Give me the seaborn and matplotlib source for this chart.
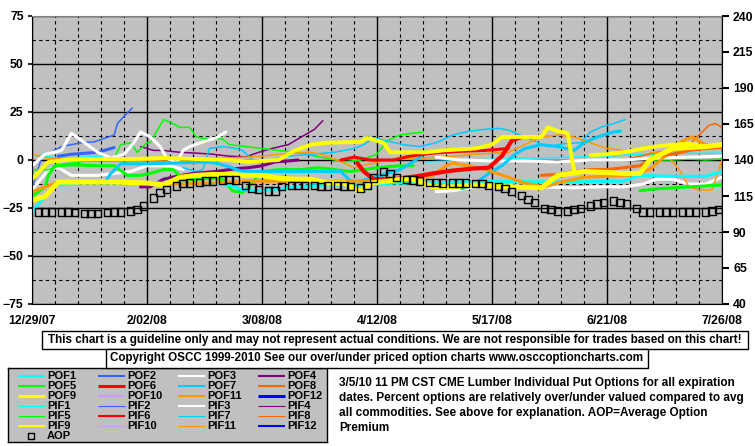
import numpy as np
import pandas as pd
import seaborn as sns
import matplotlib.pyplot as plt
from matplotlib.patches import Rectangle
from matplotlib.ticker import MultipleLocator

sns.set_style("white")
plt.rcParams['font.family'] = ['Liberation Sans', 'DejaVu Sans']
plt.rcParams['font.weight'] = 'bold'
plt.rcParams['text.color'] = 'black'
plt.rcParams['xtick.color'] = 'black'
plt.rcParams['ytick.color'] = 'black'

# x = days after 12/29/07, y = percent over/under valued (left axis)
date_labels = ["12/29/07", "2/02/08", "3/08/08", "4/12/08", "5/17/08", "6/21/08", "7/26/08"]

pof1_day = [0, 3, 7, 15, 30, 45, 60, 64, 70, 80, 90, 100, 110, 120, 140, 160, 180, 185, 195, 205, 210]
pof1_val = [-27, -21, -13, -12, -12, -12, -13, -15.5, -16, -14, -13, -13, -12, -12, -11, -11.5, -11, -8, -8.5, -8.5, -6]
pif1_day = [0, 6, 12, 20, 26]
pif1_val = [2.5, 1.5, 1, 2, 1]
pif1b_day = [120, 135, 150, 165, 175, 185, 195, 210]
pif1b_val = [-1, 0, 1, 1.5, 2, 3, 3.5, 3.5]

pof2_day = [8, 12, 16, 20, 25]
pof2_val = [2, 3, 3.5, 4, 6.5]
pif2_day = [0, 3, 9, 15, 19, 25, 26, 29, 30.5]
pif2_val = [-14.6, 1.6, 7, 9, 9.5, 13, 19, 24.5, 27]

pof3_day = [0, 4, 9, 12, 16, 20, 24, 28, 31, 33, 36, 39, 41, 44, 46, 48, 53, 56, 59]
pof3_val = [-3, 3, 5, 14, 9, 4, 1, 3, 9, 14.6, 12, 7, 1, -1.5, 5, 7, 10, 11.5, 14.6]
pof3b_day = [123, 130, 140, 150, 160, 170, 180, 190, 200, 210]
pof3b_val = [1.5, 0, -0.5, -0.5, -1, 0, 0, 1, 1.5, 2]
pif3_day = [0, 5, 8, 12, 20, 25, 30, 35, 42, 46]
pif3_val = [-15.6, -5, -4, -8, -8, -7, -6, -3, -3, -5]
pif3b_day = [123, 128, 135, 145, 155, 165, 172, 180, 186, 190, 195, 200, 205, 210]
pif3b_val = [-16.5, -16, -14, -13.5, -14, -14.5, -14, -14, -12.5, -10, -10, -12.5, -12.5, -9]

pof4_day = [33, 36, 40, 44, 49, 56, 62, 66, 70, 74, 78, 81]
pof4_val = [-14, -14, -10, -8.5, -7, -6, -4.5, -4, -3, -1, -0.5, 0]
pif4_day = [33, 37, 40, 45, 50, 55, 60, 65, 69, 73, 78, 82, 86, 88.5]
pif4_val = [7, 5, 5, 4, 3.6, 3, 2, 1.6, 4, 6, 8, 12, 16, 20.5]

pof5_day = [0, 4, 5, 7, 12, 20, 25, 29, 33, 36, 40, 43, 46, 49, 55, 58, 61, 64, 66, 70, 75, 82, 87, 92, 97, 105, 112, 116]
pof5_val = [-19, -14, -8, -3, -2.5, -3, -3, -8, -8, -7, -5, -5, -10, -10, -9.5, -10, -16, -17, -14, -6, -5, -5, -4, -5, -6, -4, -3, -3]
pof5b_day = [185, 190, 195, 200, 205, 210]
pof5b_val = [-16, -15, -14.5, -14, -13.5, -13]
pif5_day = [0, 5, 10, 15, 20, 25, 27, 30, 32, 35, 36, 40, 43, 45, 48, 50, 53, 58, 60, 65, 70, 75, 80, 85, 95, 100, 105, 108, 112, 116, 119]
pif5_val = [-5, -5, -2, -1, 0, 1, 8, 9, 4, 9, 9, 21, 19, 17, 17, 12, 11, 11, 8, 7, 6, 5, 4, 2.5, -1, 0, 3, 10, 13, 14, 14.5]
pif5b_day = [188, 195, 200, 205, 210]
pif5b_val = [0, 0, 0.5, 0, 0.5]

pof6_day = [99, 101, 104, 110, 117, 122, 128, 134, 139, 143, 146, 149]
pof6_val = [-1.6, -6, -10, -10, -8.5, -7, -5.5, -4.5, -4, 2, 10, 12]
pif6_day = [94, 98, 103, 110, 115, 122, 130, 138, 145]
pif6_val = [0, 1.5, 0, 0, 2, 3.6, 4.5, 5, 6]

pof7_day = [22, 24, 27, 35, 45, 53, 56, 60, 64, 70, 80, 90, 94, 97, 100, 106, 112, 116, 120, 124]
pof7_val = [-12, -7, -2, -2, -1.5, -1, -1.6, -3.5, -6, -6, -6, -6, -6, -11, -11, -8, -5, -1, 4, 5]
pof7b_day = [128, 131, 135, 139, 143, 147, 150, 155, 160, 165, 168, 172, 177, 179]
pof7b_val = [-12, -15, -12, -7, -3, 3, 6, 8, 7, 5, 9, 12, 14.6, 15]
pif7_day = [46, 50, 52, 54, 58, 62, 64, 66, 68, 72, 78, 85, 92, 98, 101, 104, 108, 113, 118, 123, 128, 133, 138, 142, 145, 150, 154, 157, 162, 167, 170, 173, 177, 180.5]
pif7_val = [-4, -6, -5, 6, 7, 6, 5, 2, -1, 0, 2, 3, 4, 6, 8, 11.5, 10, 8, 7, 9, 13, 15, 16, 16.5, 15.6, 12, 9, 7, 8.5, 9, 14.6, 17, 19, 21]

pof8_day = [155, 160, 165, 170, 175, 180, 185, 190, 195, 200, 205, 210]
pof8_val = [-8, -7.5, -6, -5, -5, -4, -3, 2, 3, 5, 6, 6.5]
pif8_day = [180, 185, 190, 195, 200, 203, 206, 208, 210]
pif8_val = [0, 2, 4, 5, 8, 13, 18, 19, 17]

pof9_day = [0, 4, 8, 15, 25, 35, 40, 45, 50, 55, 60, 65, 70, 75, 80, 85, 90, 95, 100, 103, 108, 115, 122, 128, 135, 145, 155, 160, 164, 168, 175, 180, 185, 188, 195, 205, 210]
pof9_val = [-21, -19, -11.5, -11.5, -11.5, -12, -13, -9, -8, -7.5, -7.5, -8, -8, -9.5, -10, -10, -12, -12, -16.5, -12, -11, -9.5, -14, -14, -13, -14, -14.5, -8, -7, -6, -6.5, -7, -7, 0, 6, 7, 8]
pif9_day = [0, 5, 10, 20, 30, 40, 50, 60, 66, 70, 75, 80, 85, 90, 100, 102, 105, 107, 109, 120, 125, 135, 140, 143, 150, 155, 157, 160, 163, 165]
pif9_val = [-10, -1, 0, 0.5, 0.5, 1, 0.5, 0, -1, -0.5, 0, 5, 8, 9, 9.4, 11.5, 10, 9, 4, 4, 5, 6, 8, 12, 12, 12, 17, 15, 14, -6]
pif9b_day = [170, 175, 180, 186, 190, 195, 200, 205, 210]
pif9b_val = [2.5, 3, 4, 6, 7, 8, 8.5, 7, 8]

pof11_day = [0, 4, 8, 20, 35, 45, 55, 65, 75, 85, 95, 105, 115, 122, 126, 128, 133, 138, 145, 150, 156, 161, 168, 175, 182, 188, 192, 195, 198, 201, 205, 210]
pof11_val = [-16.6, -14, -11.5, -11.5, -12, -12.5, -12, -11, -11, -11.5, -11, -11, -10.5, -8, -3, -1.6, -3, -5, -9, -12, -14, -11.5, -9, -8.5, -8, -5, 1, 5, 10, 12, 8, 7]
pif11_day = [0, 5, 10, 20, 30, 40, 45, 50, 55, 60, 66, 70, 75, 80, 85, 88, 93, 98, 103, 108, 113, 118, 125, 135, 145, 150, 155, 160, 165, 170, 175, 180]
pif11_val = [3, 1, 0.5, 0, -0.5, 0, 0, 0.5, 1, 1, 1.6, 2, 3, 3.6, 4, 3, 0, -4, -2, 0, 0.5, 1, 1.5, 3, 4, 8, 12, 13, 12, 9, 6, 5]
pif11b_day = [188, 193, 197, 200, 203, 207, 210]
pif11b_val = [4, 3, -5, -14, -15.6, -15.6, 0]

# average option premium, right axis, Mon/Wed/Fri
aop_day = [2, 4, 6, 9, 11, 13, 16, 18, 20, 23, 25, 27, 30, 32, 34, 37, 39, 41, 44, 46, 48, 51, 53, 55,
           58, 60, 62, 65, 67, 69, 72, 74, 76, 79, 81, 83, 86, 88, 90, 93, 95, 97, 100, 102, 104, 107, 109, 111,
           114, 116, 118, 121, 123, 125, 128, 130, 132, 135, 137, 139, 142, 144, 146, 149, 151, 153, 156, 158, 160,
           163, 165, 167, 170, 172, 174, 177, 179, 181, 184, 186, 188, 191, 193, 195, 198, 200, 202, 205, 207, 209]
aop_val = [104, 104, 104, 104, 104, 103.5, 103, 103, 103, 103.5, 104, 104, 104.5, 105.5, 108, 113.5, 117.5, 119.5,
           122, 123.5, 124, 124.5, 125.5, 125.5, 126, 126.5, 126, 122.5, 120.5, 119.5, 118.5, 118.5, 121.5,
           122.5, 122.5, 122.5, 122.5, 121.5, 122, 122.5, 122, 121.5, 120.5, 122.5, 127.5, 132, 130.5, 128,
           126.5, 126, 125.5, 124.5, 124.5, 124, 124, 124, 124, 123.5, 123.5, 122.5, 121.5, 120, 118,
           115.5, 112.5, 110.5, 106.5, 105.5, 104.5, 104.5, 105.5, 106.5, 108, 109.5, 110.5, 111.5, 110.5, 109.5,
           106.5, 104, 104, 104, 104, 104, 104, 104, 104, 104, 104.5, 105.5]

C = {1: '#00FFFF', 2: '#3366FF', 3: '#FFFFFF', 4: '#800080', 5: '#00FF00', 6: '#FF0000',
     7: '#00CCFF', 8: '#FF6600', 9: '#FFFF00', 10: '#CC99FF', 11: '#FF9900', 12: '#0000FF'}

W, H = 755, 446
def fx(x):
    return x / W
def fy(y):
    return 1 - y / H

fig = plt.figure(figsize=(7.55, 4.46), dpi=100)
ax = fig.add_axes([fx(32), fy(304), fx(722) - fx(32), fy(16) - fy(304)])
ax.set_facecolor('#C0C0C0')

draw = [
    (pif1_day, pif1_val, C[1], 1.1), (pif1b_day, pif1b_val, C[1], 1.1),
    (pif2_day, pif2_val, C[2], 1.1),
    (pif3_day, pif3_val, C[3], 2.2), (pif3b_day, pif3b_val, C[3], 2.2),
    (pif4_day, pif4_val, C[4], 1.1),
    (pif5_day, pif5_val, C[5], 1.1), (pif5b_day, pif5b_val, C[5], 1.1),
    (pif7_day, pif7_val, C[7], 1.1),
    (pif8_day, pif8_val, C[8], 1.1),
    (pif11_day, pif11_val, C[11], 1.1), (pif11b_day, pif11b_val, C[11], 1.1),
    (pof2_day, pof2_val, C[2], 2.2),
    (pof3_day, pof3_val, C[3], 2.2), (pof3b_day, pof3b_val, C[3], 2.2),
    (pof4_day, pof4_val, C[4], 2.2),
    (pof5_day, pof5_val, C[5], 2.2), (pof5b_day, pof5b_val, C[5], 2.2),
    (pof7_day, pof7_val, C[7], 2.2), (pof7b_day, pof7b_val, C[7], 2.2),
    (pof1_day, pof1_val, C[1], 2.2),
    (pof11_day, pof11_val, C[11], 2.2),
    (pof8_day, pof8_val, C[8], 2.2),
    (pif6_day, pif6_val, C[6], 2.2),
    (pof6_day, pof6_val, C[6], 3.0),
    (pif9_day, pif9_val, C[9], 2.8), (pif9b_day, pif9b_val, C[9], 2.8),
    (pof9_day, pof9_val, C[9], 3.6),
]
for d, v, col, w in draw:
    sns.lineplot(x=d, y=v, ax=ax, color=col, linewidth=w, estimator=None, sort=False)

ax.set_xlim(0, 210)
ax.set_ylim(-75, 75)
ax.set_xticks(range(0, 211, 35))
ax.set_xticklabels(date_labels)
ax.xaxis.set_minor_locator(MultipleLocator(7))
ax.set_yticks(range(-75, 76, 25))
ax.yaxis.set_minor_locator(MultipleLocator(12.5))
ax.grid(which='major', color='black', lw=1, ls='-')
ax.grid(which='minor', color='black', lw=0.8, ls=(0, (3, 3)))
ax.set_axisbelow(True)
ax.tick_params(which='minor', length=0)
ax.tick_params(axis='x', length=0, pad=8, labelsize=8.8)
ax.tick_params(axis='y', length=3, width=1.2, pad=3, labelsize=8.8)
for s in ['left', 'bottom', 'right']:
    ax.spines[s].set_color('black')
ax.spines['top'].set_color('#808080')
ax.set_xlabel('')
ax.set_ylabel('')

ax2 = ax.twinx()
sns.scatterplot(x=aop_day, y=aop_val, ax=ax2, marker='s', s=28, facecolor='none',
                edgecolor='black', linewidth=1.0, zorder=5)
ax2.set_ylim(40, 240)
ax2.set_yticks(range(40, 241, 25))
ax2.tick_params(axis='y', length=5, width=1.5, pad=3, labelsize=8.8)
ax2.grid(False)
ax2.set_ylabel('')
for s in ax2.spines.values():
    s.set_visible(False)

# text boxes under chart
fig.patches.append(Rectangle((fx(42), fy(349)), fx(748) - fx(42), fy(331) - fy(349),
                             transform=fig.transFigure, fc='white', ec='black', lw=1))
fig.text(fx(395), fy(340), "This chart is a guideline only and may not represent actual conditions. "
         "We are not responsible for trades based on this chart!", ha='center', va='center',
         fontsize=8.4, color='black')
fig.patches.append(Rectangle((fx(106), fy(368)), fx(648) - fx(106), fy(349) - fy(368),
                             transform=fig.transFigure, fc='white', ec='black', lw=1))
fig.text(fx(377), fy(358.5), "Copyright OSCC 1999-2010 See our over/under priced option charts www.osccoptioncharts.com",
         ha='center', va='center', fontsize=8.4, color='black')

# legend
lax = fig.add_axes([fx(8), fy(442), fx(327) - fx(8), fy(368) - fy(442)])
lax.set_xlim(8, 327)
lax.set_ylim(442, 368)
lax.set_facecolor('#C0C0C0')
lax.set_xticks([])
lax.set_yticks([])
for s in lax.spines.values():
    s.set_color('black')
    s.set_linewidth(1)
col_x = [18, 98, 178, 258]
row_y = [376, 386, 396, 406, 416, 426]
entries = []
for kind in ['POF', 'PIF']:
    for i in range(1, 13):
        if kind == 'POF':
            w = 2.2 if i in (6, 9, 12) else 1.5
        else:
            w = 1.5 if i in (3, 6, 9, 12) else 0.8
        entries.append((f"{kind}{i}", C[i], w))
for k, (name, col, w) in enumerate(entries):
    r, c = divmod(k, 4)
    x0, y0 = col_x[c], row_y[r]
    lax.plot([x0, x0 + 27], [y0, y0], color=col, lw=w, solid_capstyle='butt')
    lax.text(x0 + 29, y0, name, va='center', ha='left', fontsize=8, color='black')
lax.scatter([31], [436], marker='s', s=14, facecolor='none', edgecolor='black', lw=1)
lax.text(47, 436, "AOP", va='center', ha='left', fontsize=8, color='black')

note = ["3/5/10 11 PM CST CME Lumber Individual Put Options for all expiration",
        "dates. Percent options are relatively over/under valued compared to avg",
        "all commodities. See above for explanation. AOP=Average Option",
        "Premium"]
for i, line in enumerate(note):
    fig.text(fx(339), fy(383 + 15 * i), line, ha='left', va='center', fontsize=8.5, color='black')

fig.savefig("out.png", dpi=100)
